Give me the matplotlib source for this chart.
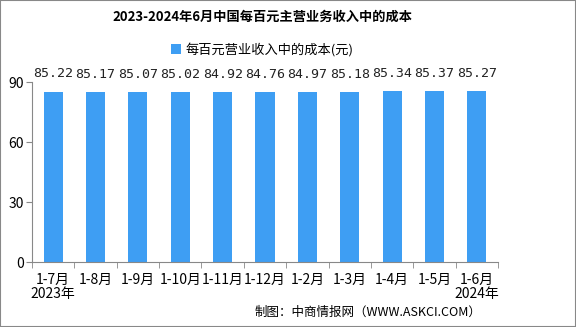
import matplotlib
matplotlib.use("Agg")
import matplotlib.pyplot as plt
from matplotlib.patches import Rectangle

plt.rcParams['font.family'] = ['Noto Sans CJK SC', 'DejaVu Sans']

categories = ["1-7月\n2023年", "1-8月", "1-9月", "1-10月", "1-11月", "1-12月",
              "1-2月", "1-3月", "1-4月", "1-5月", "1-6月\n2024年"]
values = [85.22, 85.17, 85.07, 85.02, 84.92, 84.76, 84.97, 85.18, 85.34, 85.37, 85.27]
yticks = [0, 30, 60, 90]
series_name = "每百元营业收入中的成本(元)"
title = "2023-2024年6月中国每百元主营业务收入中的成本"
source = "制图：中商情报网（WWW.ASKCI.COM）"

bar_color = "#3E9EF3"

fig = plt.figure(figsize=(5.76, 3.27), dpi=100)
ax = fig.add_axes([32/576, 1-262/327, (498-32)/576, 180/327])

x = list(range(len(categories)))
bars = ax.bar(x, values, width=0.45, color=bar_color, label=series_name)
for xi, v in zip(x, values):
    ax.annotate(f"{v:.2f}", (xi, v), xytext=(0, 8), textcoords="offset points",
                ha="center", va="bottom", fontsize=9.5, color="#222222",
                family=['DejaVu Sans Mono'])

ax.set_xlim(-0.5, len(categories) - 0.5)
ax.set_ylim(0, 90)
ax.set_yticks(yticks)
ax.set_yticklabels([str(t) for t in yticks], fontsize=10)
ax.set_xticks(x)
ax.set_xticklabels(categories, fontsize=10, linespacing=0.95)
ax.tick_params(axis='x', length=0, pad=8)
ax.tick_params(axis='y', length=4, color="#888888", pad=2)
# category boundary ticks
ax.set_xticks([i - 0.5 for i in range(len(categories) + 1)], minor=True)
ax.tick_params(axis='x', which='minor', length=4, color="#888888")

for s in ["top", "right"]:
    ax.spines[s].set_visible(False)
for s in ["left", "bottom"]:
    ax.spines[s].set_color("#888888")

cx = 262/576
fig.text(cx, 1-17/327, title, ha="center", va="center", fontsize=9.5, fontweight="bold")
leg = fig.legend(handles=[bars], labels=[series_name], loc="center", bbox_to_anchor=(cx, 1-50/327),
                 frameon=False, fontsize=9.5, handlelength=0.8, handleheight=0.8, handletextpad=0.3)
fig.text(368/576, 1-312/327, source, ha="center", va="center", fontsize=9)

fig.patches.append(Rectangle((0, 0), 1, 1, transform=fig.transFigure, fill=False,
                             edgecolor="#888888", linewidth=1.5))

fig.savefig("out.png", dpi=100)
